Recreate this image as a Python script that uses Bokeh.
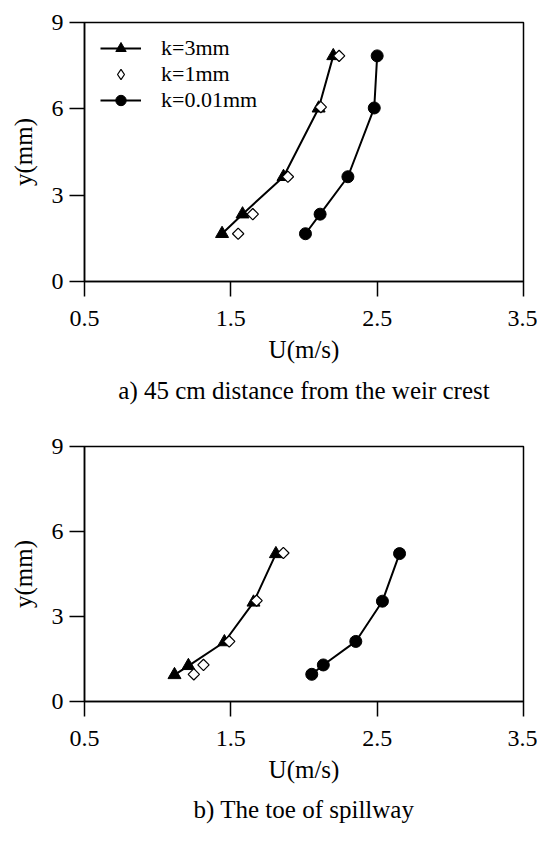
import math
from bokeh.plotting import figure
from bokeh.models import Range1d, FixedTicker, Legend, LegendItem, Title
from bokeh.layouts import column
from bokeh.embed import file_html
from bokeh.resources import INLINE

# ---- data ----
x_ticks = [0.5, 1.5, 2.5, 3.5]
x_tick_labels = ["0.5", "1.5", "2.5", "3.5"]
y_ticks = [0, 3, 6, 9]
y_tick_labels = ["0", "3", "6", "9"]

series_names = ["k=3mm", "k=1mm", "k=0.01mm"]

# a) 45 cm distance from the weir crest
a_k3_u = [1.44, 1.58, 1.86, 2.10, 2.20]
a_k3_y = [1.66, 2.34, 3.64, 6.02, 7.84]
a_k1_u = [1.55, 1.65, 1.89, 2.115, 2.24]
a_k1_y = [1.66, 2.34, 3.64, 6.06, 7.84]
a_k001_u = [2.01, 2.11, 2.30, 2.48, 2.50]
a_k001_y = [1.66, 2.34, 3.64, 6.03, 7.84]

# b) The toe of spillway
b_k3_u = [1.115, 1.21, 1.456, 1.655, 1.808]
b_k3_y = [0.94, 1.26, 2.10, 3.50, 5.21]
b_k1_u = [1.247, 1.313, 1.489, 1.676, 1.859]
b_k1_y = [0.96, 1.29, 2.12, 3.56, 5.24]
b_k001_u = [2.053, 2.132, 2.354, 2.536, 2.653]
b_k001_y = [0.96, 1.29, 2.12, 3.54, 5.22]

captions = ["a) 45 cm distance from the weir crest", "b) The toe of spillway"]
x_label = "U(m/s)"
y_label = "y(mm)"

FONT = "'Liberation Serif', 'Times New Roman', serif"
FRAME_H = 259


def make_panel(k3u, k3y, k1u, k1y, k0u, k0y, caption, top_border, bottom_border,
               title_standoff, with_legend):
    p = figure(width=537, height=top_border + FRAME_H + bottom_border,
               x_range=Range1d(0.5, 3.5), y_range=Range1d(0, 9),
               output_backend="svg", toolbar_location=None,
               min_border_left=84, min_border_right=14,
               min_border_top=top_border, min_border_bottom=bottom_border)
    p.background_fill_color = "white"
    p.border_fill_color = "white"
    p.grid.visible = False
    p.outline_line_color = "black"
    p.outline_line_width = 1.5

    for ax in (p.xaxis[0], p.yaxis[0]):
        ax.axis_line_color = "black"
        ax.axis_line_width = 1.5
        ax.major_tick_line_color = "black"
        ax.major_tick_line_width = 1.5
        ax.major_tick_out = 15
        ax.major_tick_in = 0
        ax.minor_tick_line_color = None
        ax.major_label_text_font = FONT
        ax.major_label_text_font_size = "24px"
        ax.major_label_text_color = "black"
        ax.axis_label_text_font = FONT
        ax.axis_label_text_font_size = "25px"
        ax.axis_label_text_font_style = "normal"
        ax.axis_label_text_color = "black"

    p.xaxis.ticker = FixedTicker(ticks=x_ticks)
    p.xaxis.major_label_overrides = dict(zip(x_ticks, x_tick_labels))
    p.yaxis.ticker = FixedTicker(ticks=y_ticks)
    p.yaxis.major_label_overrides = dict(zip(y_ticks, y_tick_labels))
    p.xaxis.axis_label = x_label
    p.yaxis.axis_label = y_label
    p.xaxis.major_label_standoff = 14
    p.xaxis.axis_label_standoff = 7
    p.yaxis.major_label_standoff = 6
    p.yaxis.axis_label_standoff = 12

    l1 = p.line(k3u, k3y, line_color="black", line_width=2)
    m1 = p.scatter(k3u, k3y, marker="triangle", size=13, fill_color="black",
                   line_color="black")
    # narrow diamond used for the legend symbol, hidden under the open markers
    m2leg = p.scatter(k1u, k1y, marker="diamond", size=10, fill_color="white",
                      line_color="black", line_width=1.2)
    p.scatter(k1u, k1y, marker="square", angle=math.pi / 4, size=8,
              fill_color="white", line_color="black", line_width=1.2)
    l3 = p.line(k0u, k0y, line_color="black", line_width=2)
    m3 = p.scatter(k0u, k0y, marker="circle", size=12, fill_color="black",
                   line_color="black")

    if with_legend:
        items = [LegendItem(label=series_names[0], renderers=[l1, m1]),
                 LegendItem(label=series_names[1], renderers=[m2leg]),
                 LegendItem(label=series_names[2], renderers=[l3, m3])]
        leg = Legend(items=items, location=(16, FRAME_H - 13 - 78),
                     glyph_width=41, glyph_height=26, label_height=26,
                     label_standoff=20, spacing=0, padding=0, margin=0,
                     border_line_color=None, background_fill_alpha=0,
                     label_text_font=FONT, label_text_font_size="22px",
                     label_text_color="black")
        p.add_layout(leg)

    t = Title(text=caption, align="center", text_font=FONT,
              text_font_size="25px", text_font_style="normal",
              text_color="black", standoff=title_standoff)
    p.add_layout(t, "below")
    return p


p1 = make_panel(a_k3_u, a_k3_y, a_k1_u, a_k1_y, a_k001_u, a_k001_y,
                captions[0], 22, 142, 19, True)
p2 = make_panel(b_k3_u, b_k3_y, b_k1_u, b_k1_y, b_k001_u, b_k001_y,
                captions[1], 23, 125, 16, False)

layout = column(p1, p2, spacing=0)
open("out.html", "w").write(file_html(layout, INLINE))
